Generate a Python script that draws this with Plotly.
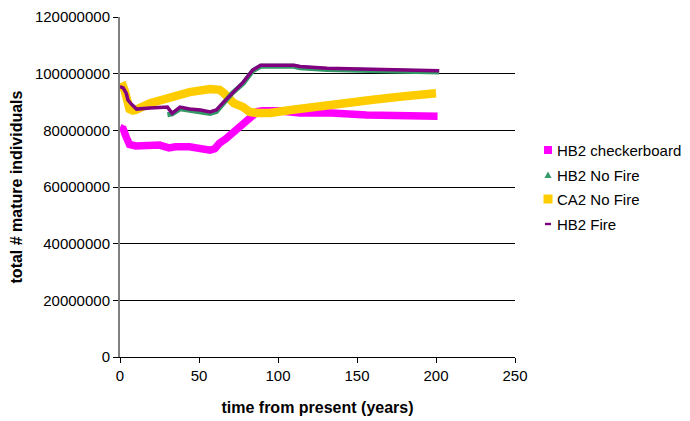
import plotly.graph_objects as go

# HB2 checkerboard (magenta)
cb_x = [0, 2, 4, 6, 10, 19, 25, 31, 35, 44, 50, 57, 60, 63, 67, 71, 76, 80, 84, 87, 90, 100, 114, 131, 156, 175, 194, 201]
cb_y = [81.0e6, 80.5e6, 77.5e6, 75.0e6, 74.5e6, 75.0e6, 74.8e6, 73.8e6, 74.2e6, 74.2e6, 73.6e6, 73.0e6, 73.5e6, 75.5e6, 77.0e6, 79.0e6, 81.0e6, 83.0e6, 85.0e6, 86.6e6, 86.9e6, 86.9e6, 86.1e6, 86.2e6, 85.4e6, 85.4e6, 85.1e6, 85.0e6]

# HB2 No Fire (green)
nf_x = [30, 33, 38, 44, 51, 57, 61, 65, 71, 78, 84, 89, 100, 110, 114, 131, 158, 189, 202]
nf_y = [85.5e6, 85.8e6, 87.6e6, 87.0e6, 86.6e6, 86.0e6, 86.6e6, 89.2e6, 93.1e6, 96.6e6, 101.0e6, 102.6e6, 102.6e6, 102.6e6, 102.1e6, 101.5e6, 101.1e6, 100.6e6, 100.6e6]

# CA2 No Fire (yellow)
ca_x = [0, 2, 3, 4, 5, 6, 8, 10, 19, 32, 44, 57, 63, 66, 68, 72, 78, 82, 87, 95, 108, 120, 140, 160, 180, 200]
ca_y = [95.0e6, 95.5e6, 94.0e6, 91.0e6, 89.0e6, 87.5e6, 87.0e6, 87.2e6, 89.6e6, 91.8e6, 93.5e6, 94.6e6, 94.3e6, 93.0e6, 91.8e6, 89.6e6, 88.2e6, 86.5e6, 86.1e6, 86.1e6, 87.2e6, 88.2e6, 89.5e6, 90.8e6, 92.0e6, 93.1e6]

# HB2 Fire (purple)
fi_x = [0, 2, 4, 5, 7.6, 10.5, 19, 30, 33, 38, 44, 51, 57, 61, 65, 71.5, 78, 84, 89, 110, 114, 131, 158, 189, 202]
fi_y = [95.4e6, 95.0e6, 93.0e6, 90.7e6, 89.0e6, 87.5e6, 87.9e6, 88.2e6, 86.0e6, 88.2e6, 87.5e6, 87.2e6, 86.5e6, 87.2e6, 89.6e6, 93.5e6, 97.0e6, 101.3e6, 103.0e6, 103.0e6, 102.5e6, 101.9e6, 101.5e6, 101.0e6, 101.0e6]

names = ["HB2 checkerboard", "HB2 No Fire", "CA2 No Fire", "HB2 Fire"]
colors = ["#ff00ff", "#339966", "#ffcc00", "#800080"]

# page offset (default body margin) compensation
OFF = 8
W, H = 690 - OFF, 421 - OFF
# plot-area edges in screen pixels
SL, SR, ST, SB = 120, 515, 17, 357
L, T = SL - OFF, ST - OFF
PW, PH = SR - SL, SB - ST
R = W - L - PW
B = H - T - PH

def px(x):
    return (x - SL) / PW

def py(y):
    return (SB - y) / PH

fig = go.Figure()
fig.add_trace(go.Scatter(x=cb_x, y=cb_y, mode="lines", name=names[0], line=dict(color=colors[0], width=7.5), showlegend=False))
fig.add_trace(go.Scatter(x=ca_x, y=ca_y, mode="lines", name=names[2], line=dict(color=colors[2], width=8.5), showlegend=False))
fig.add_trace(go.Scatter(x=nf_x, y=nf_y, mode="lines", name=names[1], line=dict(color=colors[1], width=5), showlegend=False))
fig.add_trace(go.Scatter(x=fi_x, y=fi_y, mode="lines", name=names[3], line=dict(color=colors[3], width=3.5), showlegend=False))

# manual legend (screen pixel positions)
leg_y = [150, 175, 199, 224]
mx, tx = 548, 555
shapes = []
annotations = []
shapes.append(dict(type="rect", xref="paper", yref="paper", x0=px(mx - 4), x1=px(mx + 4), y0=py(leg_y[0] + 4), y1=py(leg_y[0] - 4),
                   fillcolor=colors[0], line=dict(width=0)))
shapes.append(dict(type="path", xref="paper", yref="paper",
                   path=f"M {px(mx-3.5)},{py(leg_y[1]+3)} L {px(mx+3.5)},{py(leg_y[1]+3)} L {px(mx)},{py(leg_y[1]-3.5)} Z",
                   fillcolor=colors[1], line=dict(width=0)))
shapes.append(dict(type="rect", xref="paper", yref="paper", x0=px(mx - 4.5), x1=px(mx + 4.5), y0=py(leg_y[2] + 4.5), y1=py(leg_y[2] - 4.5),
                   fillcolor=colors[2], line=dict(width=0)))
shapes.append(dict(type="rect", xref="paper", yref="paper", x0=px(mx - 3), x1=px(mx + 3), y0=py(leg_y[3] + 1.2), y1=py(leg_y[3] - 1.2),
                   fillcolor=colors[3], line=dict(width=0)))
for n, yy in zip(names, leg_y):
    annotations.append(dict(text=n, xref="paper", yref="paper", x=px(tx), y=py(yy), xanchor="left", yanchor="middle",
                            showarrow=False, font=dict(size=15, color="black")))

fig.update_layout(
    width=W, height=H,
    margin=dict(l=L, r=R, t=T, b=B),
    paper_bgcolor="white", plot_bgcolor="white",
    font=dict(family="Liberation Sans, Arial, sans-serif", size=15, color="black"),
    showlegend=False,
    shapes=shapes,
    annotations=annotations,
    xaxis=dict(range=[0, 250], dtick=50, tick0=0, showgrid=False, zeroline=False, automargin=False,
               showline=True, linecolor="black", linewidth=1, ticks="outside", ticklen=5,
               tickcolor="black", tickfont=dict(size=15),
               title=dict(text="<b>time from present (years)</b>", font=dict(size=16), standoff=18)),
    yaxis=dict(range=[0, 120e6], dtick=20e6, tick0=0, tickformat="d", showgrid=True, automargin=False,
               gridcolor="black", gridwidth=1, zeroline=False,
               showline=True, linecolor="#808080", linewidth=2, ticks="outside", ticklen=5,
               tickcolor="black", tickfont=dict(size=15),
               title=dict(text="<b>total # mature individuals</b>", font=dict(size=16), standoff=8)),
)

fig.write_html("out.html")
